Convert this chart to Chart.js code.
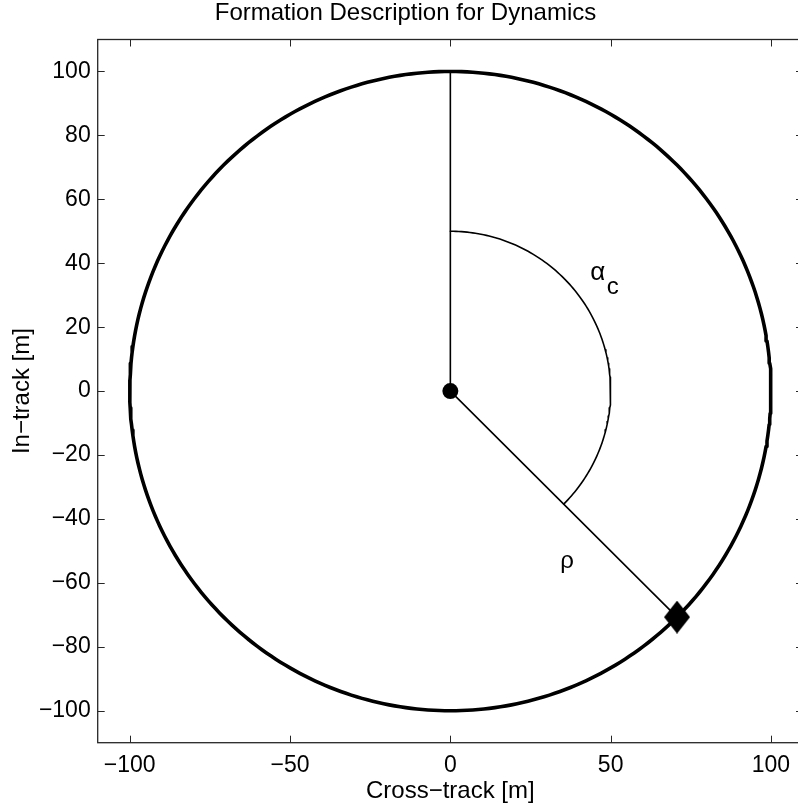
<!DOCTYPE html>
<html lang="en">
<head>
<meta charset="UTF-8">
<title>Formation Description for Dynamics</title>
<script src="https://cdn.jsdelivr.net/npm/chart.js"></script>
<style>
html,body{margin:0;padding:0;background:#fff;overflow:hidden;}
#wrap{width:811px;height:807px;position:relative;}
canvas{display:block;}
</style>
</head>
<body>
<div id="wrap"><canvas id="formationChart" width="811" height="807" style="width:811px;height:807px"></canvas></div>
<script>
/* ---------- data ---------- */
const X_TICKS=[-100,-50,0,50,100];
const Y_TICKS=[-100,-80,-60,-40,-20,0,20,40,60,80,100];
const AXIS_RANGE=[-110,110];
const CENTER=[0,0];
const SATELLITE=[70.7,-70.7];
const RING_RADIUS=[100];          // formation circle
const ARC_RADIUS=[50];            // alpha_c arc
const ARC_ANGLES=[90,-45];        // deg: in-track reference -> satellite
const NOTE_TEXT=["α","c","ρ"];
const NOTE_X=[43.6,48.8,34.3];
const NOTE_Y=[34.7,30.4,-55.2];

const FONT="'Liberation Sans', Arial, Helvetica, sans-serif";
const AXIS_COLOR="#262626";

/* points along a circle of radius r between two angles (deg) */
function circlePoints(r,a0,a1){
    const pts=[];
    const n=Math.max(2,Math.round(Math.abs(a1-a0)));
    for(let i=0;i<=n;i++){
        const a=(a0+(a1-a0)*i/n)*Math.PI/180;
        pts.push({x:CENTER[0]+r*Math.cos(a),y:CENTER[1]+r*Math.sin(a)});
    }
    return pts;
}
const minus=v=>String(v).replace("-","\u2212");
const noPad=s=>{s.paddingLeft=0;s.paddingRight=0;s.paddingTop=0;s.paddingBottom=0;};

/* diamond marker */
const diamond=document.createElement("canvas");
diamond.width=26;diamond.height=33;
(function(){
    const c=diamond.getContext("2d");
    c.fillStyle="#000";
    c.beginPath();
    c.moveTo(13,0);c.lineTo(26,16.5);c.lineTo(13,33);c.lineTo(0,16.5);
    c.closePath();c.fill();
})();

/* inward ticks, box and text notes */
const frame={
    id:"frame",
    beforeDatasetsDraw(chart){
        const {ctx,chartArea:a,scales:{x,y}}=chart;
        const L=7;
        ctx.save();
        ctx.strokeStyle=AXIS_COLOR;
        ctx.lineWidth=1;
        ctx.beginPath();
        X_TICKS.forEach(v=>{
            const px=Math.round(x.getPixelForValue(v))+0.5;
            ctx.moveTo(px,a.bottom);ctx.lineTo(px,a.bottom-L);
            ctx.moveTo(px,a.top);ctx.lineTo(px,a.top+L);
        });
        Y_TICKS.forEach(v=>{
            const py=Math.round(y.getPixelForValue(v))+0.5;
            ctx.moveTo(a.left,py);ctx.lineTo(a.left+L,py);
            ctx.moveTo(a.right,py);ctx.lineTo(a.right-L,py);
        });
        ctx.stroke();
        ctx.lineWidth=1.3;
        ctx.strokeRect(a.left,a.top,a.right-a.left,a.bottom-a.top);
        ctx.restore();
    },
    afterDatasetsDraw(chart){
        const {ctx,scales:{x,y}}=chart;
        ctx.save();
        ctx.fillStyle="#000";
        ctx.textBaseline="alphabetic";
        ctx.textAlign="left";
        NOTE_TEXT.forEach((t,i)=>{
            ctx.font=(i===0?"26px ":"24px ")+FONT;
            ctx.fillText(t,x.getPixelForValue(NOTE_X[i]),y.getPixelForValue(NOTE_Y[i]));
        });
        ctx.restore();
    }
};

const lineDs=(data,w)=>({data,showLine:true,borderColor:"#000",borderWidth:w,
    borderCapStyle:"round",borderJoinStyle:"round",pointRadius:0,fill:false,tension:0});

new Chart(document.getElementById("formationChart"),{
    type:"scatter",
    data:{datasets:[
        {data:[{x:CENTER[0],y:CENTER[1]}],pointRadius:8,pointBackgroundColor:"#000",pointBorderWidth:0},
        {data:[{x:SATELLITE[0],y:SATELLITE[1]}],pointStyle:diamond},
        lineDs([{x:CENTER[0],y:CENTER[1]},{x:CENTER[0],y:CENTER[1]+RING_RADIUS[0]}],1.6),
        lineDs([{x:CENTER[0],y:CENTER[1]},{x:SATELLITE[0],y:SATELLITE[1]}],1.6),
        lineDs(circlePoints(ARC_RADIUS[0],ARC_ANGLES[0],ARC_ANGLES[1]),1.6),
        lineDs(circlePoints(RING_RADIUS[0],90,450),3.6)
    ]},
    options:{
        responsive:false,
        animation:false,
        devicePixelRatio:1,
        layout:{padding:0},
        plugins:{
            legend:{display:false},
            tooltip:{enabled:false},
            title:{display:true,text:"Formation Description for Dynamics",color:"#000",
                font:{family:FONT,size:24,weight:"normal"},padding:{top:-1,bottom:11.7}}
        },
        scales:{
            x:{type:"linear",min:AXIS_RANGE[0],max:AXIS_RANGE[1],
                grid:{display:false,drawTicks:false},border:{display:false},
                afterBuildTicks:s=>{s.ticks=X_TICKS.map(v=>({value:v}));},
                afterFit:s=>{s.height=64.3;noPad(s);},
                ticks:{autoSkip:false,maxRotation:0,padding:9,color:"#000",
                    font:{family:FONT,size:23},callback:minus},
                title:{display:true,text:"Cross\u2212track [m]",color:"#000",
                    font:{family:FONT,size:24},padding:{top:0,bottom:1.5}}},
            y:{type:"linear",min:AXIS_RANGE[0],max:AXIS_RANGE[1],
                grid:{display:false,drawTicks:false},border:{display:false},
                afterBuildTicks:s=>{s.ticks=Y_TICKS.map(v=>({value:v}));},
                afterFit:s=>{s.width=97.7;noPad(s);},
                ticks:{autoSkip:false,padding:7,color:"#000",
                    font:{family:FONT,size:23},callback:minus},
                title:{display:true,text:"In\u2212track [m]",color:"#000",
                    font:{family:FONT,size:24},padding:{top:8,bottom:0}}}
        }
    },
    plugins:[frame]
});
</script>
</body>
</html>
